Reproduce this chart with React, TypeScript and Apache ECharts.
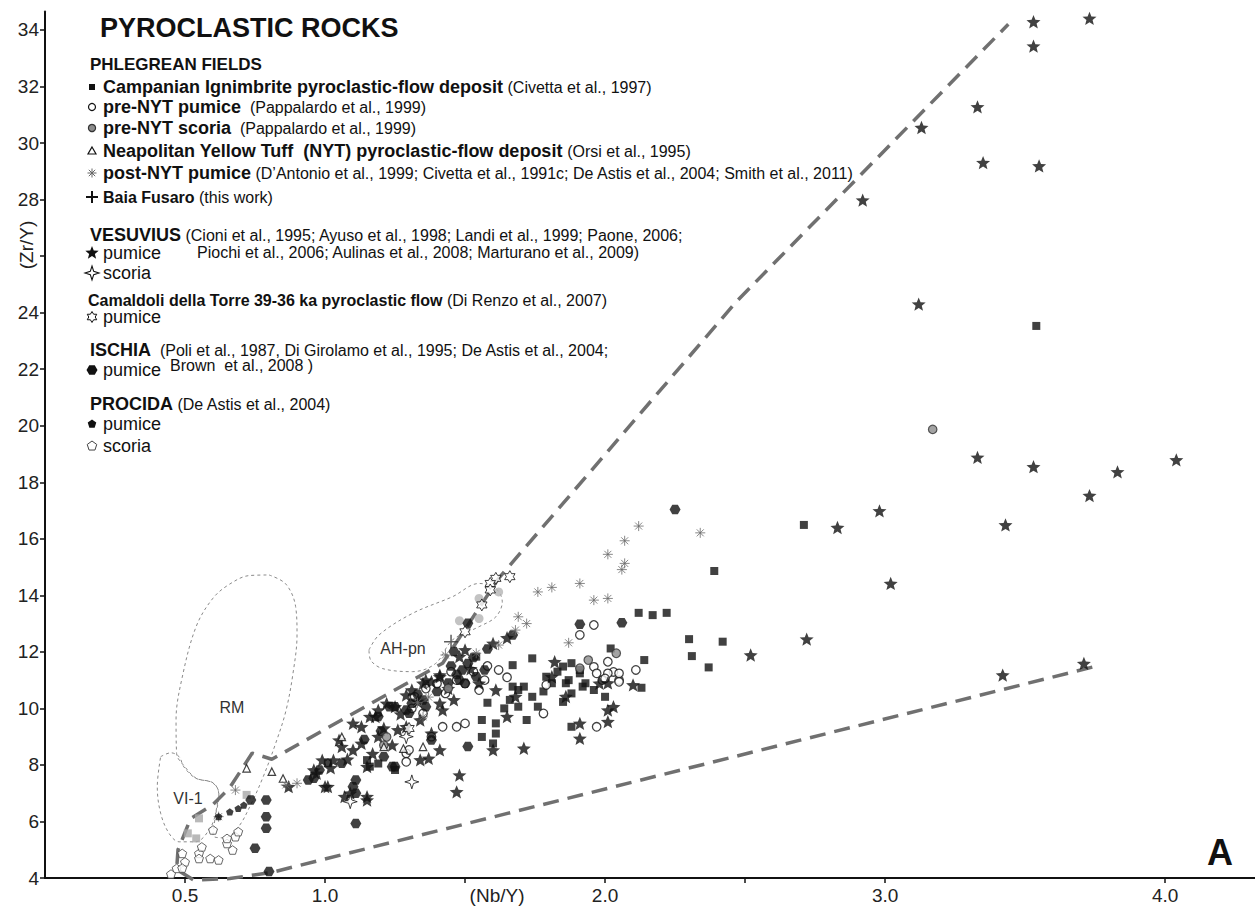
import React, { useEffect, useRef } from 'react';
import * as echarts from 'echarts';

const F = 'Liberation Sans, Arial, Helvetica, sans-serif';

// ---------- data (Nb/Y, Zr/Y) ----------
const campanian = [[3.54,23.53],[2.71,16.49],[2.39,14.86],[2.12,13.38],[2.17,13.30],[2.22,13.38],[2.30,12.45],[2.42,12.36],[2.31,11.85],[2.37,11.45],[2.02,12.12],[2.14,11.71],[2.13,10.73],[2.00,10.41],[1.88,10.53],[1.85,10.23],[1.88,9.35],[1.76,10.06],[1.74,10.41],[1.69,10.65],[1.67,10.77],[1.72,9.59],[1.69,10.06],[1.66,10.30],[1.61,9.11],[1.56,8.99],[1.60,8.76],[1.61,9.47],[1.56,9.59],[1.54,11.83],[1.74,11.77],[1.67,11.53],[1.25,7.82],[1.19,8.05],[1.15,8.17],[1.01,8.06],[1.16,7.94],[1.85,11.48],[1.88,11.60],[1.91,11.36],[1.87,11.00],[1.93,10.89],[1.96,10.65],[1.81,10.89],[1.79,11.12],[1.71,10.77],[1.91,11.24],[1.86,10.89],[1.92,10.77],[1.78,10.60],[1.83,11.30],[1.64,10.00],[1.58,10.20]];
const preNytPumice = [[1.96,12.95],[1.91,12.60],[2.11,11.36],[1.97,9.35],[1.99,11.00],[2.05,11.00],[2.03,11.29],[2.01,11.65],[1.96,11.47],[1.78,9.82],[1.79,10.83],[1.62,11.36],[1.57,11.00],[1.55,10.65],[1.50,10.88],[1.47,11.00],[1.40,10.88],[1.43,10.53],[1.42,9.35],[1.47,9.35],[1.50,9.47],[1.32,10.41],[1.35,9.82],[1.29,8.41],[1.29,8.11],[1.31,10.00],[2.01,11.24],[2.05,11.24],[2.05,10.94],[2.00,11.06],[1.97,11.24],[1.30,8.53],[1.36,10.70],[1.45,11.30],[1.53,11.30],[1.58,11.50],[1.65,11.10],[1.38,9.00]];
const preNytScoria = [[3.17,19.87],[1.94,11.71],[2.04,11.95],[1.91,11.42],[1.44,10.71],[1.22,8.99],[1.21,8.70]];
const lightGreyCircles = [[1.55,13.89],[1.62,14.12],[1.48,13.10],[1.55,13.18]];
const greySquares = [[0.72,6.94],[0.55,6.11],[0.51,5.58],[0.54,5.40]];
const nyt = [[0.72,7.88],[0.81,7.76],[0.85,7.52],[1.06,8.99],[1.35,8.64],[1.28,8.58],[1.21,8.64]];
const postNyt = [[2.12,16.45],[2.34,16.21],[2.07,15.93],[2.01,15.45],[2.07,15.13],[2.06,14.91],[1.91,14.42],[1.96,13.83],[2.01,13.89],[1.87,12.32],[1.76,14.12],[1.81,14.28],[1.69,13.24],[1.72,13.00],[1.68,12.77],[1.54,11.95],[1.62,12.24],[1.43,11.89],[1.35,9.70],[0.90,7.35],[0.86,7.29],[0.68,7.11],[0.62,6.17],[1.37,10.40],[1.33,10.20]];
const baiaFusaro = [[1.45,12.36]];
const vesuviusPumice = [[3.53,34.29],[3.73,34.41],[3.53,33.43],[3.33,31.28],[3.13,30.55],[3.35,29.31],[3.55,29.19],[2.92,27.98],[3.12,24.30],[3.33,18.88],[3.53,18.55],[3.83,18.37],[4.04,18.79],[3.73,17.53],[2.98,16.99],[3.43,16.49],[3.02,14.42],[3.42,11.18],[3.71,11.59],[2.83,16.40],[2.72,12.45],[2.52,11.89],[2.01,9.94],[2.01,9.53],[1.91,9.47],[1.91,8.94],[2.10,10.83],[2.01,10.90],[1.82,11.65],[1.71,8.59],[1.65,9.71],[1.60,8.53],[1.48,7.64],[1.47,7.05],[1.41,8.53],[1.37,8.23],[1.36,11.00],[1.41,11.12],[1.00,7.23],[1.07,6.88],[1.15,6.88],[1.29,10.47],[1.22,10.18],[1.16,9.71],[1.10,9.47],[1.19,9.94],[1.25,10.06],[1.31,10.65],[1.34,9.59],[1.41,10.18],[1.46,10.30],[1.55,10.89],[1.61,10.65],[1.68,10.42],[1.86,10.42],[1.81,11.12],[1.98,10.89],[2.03,10.06],[1.05,8.88],[0.99,8.17],[0.96,7.82],[1.03,8.17],[1.10,8.53],[1.13,8.76],[1.19,9.00],[1.26,9.24],[1.15,7.94],[1.18,9.71],[1.29,9.35],[1.13,9.35],[1.06,8.65],[0.97,7.70],[0.87,7.23],[1.01,7.23],[1.09,7.00],[1.15,6.76],[1.34,8.18],[1.38,9.12],[1.42,9.94],[1.35,10.89],[1.41,11.18],[1.50,12.07],[1.48,11.83],[1.60,12.30],[1.65,12.50],[1.08,8.20],[1.21,9.30],[1.27,9.80],[1.33,10.25],[1.44,10.70],[1.52,11.40],[1.38,10.95],[1.24,8.70],[1.17,8.40],[1.02,7.90]];
const vesuviusScoria = [[1.31,7.40],[1.09,6.70],[1.29,9.00]];
const camaldoliPumice = [[1.61,14.60],[1.66,14.66],[1.59,14.42],[1.59,14.19],[1.56,13.66],[1.50,12.71],[1.30,9.29]];
const ischiaPumice = [[2.25,17.04],[2.06,13.03],[1.91,12.98],[1.51,13.01],[1.46,12.01],[1.67,12.60],[1.51,11.59],[1.49,11.36],[1.54,11.12],[1.48,11.00],[1.38,8.88],[1.51,8.65],[1.24,7.94],[1.11,7.47],[1.10,7.23],[0.96,7.53],[0.98,7.82],[1.31,10.18],[1.29,9.94],[1.19,9.71],[1.23,10.06],[1.36,10.06],[1.57,11.36],[1.50,10.89],[0.94,7.47],[1.06,8.06],[1.25,7.94],[1.21,8.29],[1.11,7.00],[1.11,5.93],[0.79,6.76],[0.79,6.17],[0.79,5.76],[0.75,5.05],[0.80,4.23],[0.735,6.76],[1.30,9.83],[1.25,10.06],[1.45,11.50],[1.53,11.80],[1.40,10.60],[1.33,10.50],[1.44,10.90],[1.58,12.10],[1.20,9.20],[1.14,8.90],[1.35,10.30],[1.47,11.20]];
const procidaPumice = [[0.62,6.17],[0.66,6.34],[0.69,6.46],[0.71,6.58]];
const procidaScoria = [[0.47,4.34],[0.50,4.57],[0.49,4.87],[0.55,4.87],[0.55,4.69],[0.59,4.69],[0.62,4.64],[0.56,5.10],[0.60,5.70],[0.65,5.22],[0.65,5.40],[0.68,5.46],[0.69,5.64],[0.67,4.99],[0.45,4.14],[0.49,4.35]];

// field boundaries
const envelope = [[3.74,11.46],[0.81,4.2],[0.66,3.98],[0.53,3.93],[0.47,4.3],[0.475,5.0],[0.52,6.1],[0.6,6.6],[0.66,7.2],[0.74,8.42],[0.81,8.2],[1.42,11.6],[1.62,14.6],[2.47,24.4],[3.44,34.2]];
const rmField = [[0.80,14.72],[0.86,14.4],[0.895,13.6],[0.9,12.6],[0.885,11.2],[0.86,9.9],[0.825,8.8],[0.78,7.6],[0.735,6.6],[0.69,5.8],[0.64,5.42],[0.6,5.5],[0.61,6.3],[0.62,7.0],[0.6,7.37],[0.54,7.53],[0.5,7.93],[0.47,8.4],[0.468,9.6],[0.49,11.1],[0.54,12.9],[0.6,13.9],[0.66,14.4],[0.73,14.7],[0.80,14.72]];
const vi1Field = [[0.413,8.29],[0.449,8.43],[0.479,8.29],[0.496,7.93],[0.538,7.53],[0.598,7.37],[0.621,7.0],[0.61,6.29],[0.586,5.70],[0.538,5.28],[0.479,5.28],[0.443,5.58],[0.413,6.29],[0.401,7.23],[0.413,8.29]];
const ahpnField = [[1.157,12.07],[1.193,12.6],[1.312,13.36],[1.455,13.95],[1.55,14.42],[1.61,14.24],[1.633,13.77],[1.61,13.24],[1.55,12.89],[1.455,12.42],[1.395,11.59],[1.312,11.3],[1.205,11.41],[1.163,11.71],[1.157,12.07]];

const yTicks = [4,6,8,10,12,14,16,18,20,22,24,26,28,30,32,34];
const yLabels = [4,6,8,10,12,14,16,18,20,22,24,28,30,32,34];
const xTicks = [0.5,1,1.5,2,2.5,3,4];
const xLabels = [0.5,1,1.5,2,3,4];

// ---------- shapes ----------
function starPts(cx: number, cy: number, n: number, R: number, r: number, rot = -Math.PI / 2) {
  const pts: number[][] = [];
  for (let i = 0; i < 2 * n; i++) {
    const a = rot + (i * Math.PI) / n;
    const rr = i % 2 === 0 ? R : r;
    pts.push([cx + rr * Math.cos(a), cy + rr * Math.sin(a)]);
  }
  return pts;
}
function regPts(cx: number, cy: number, n: number, R: number, rot = -Math.PI / 2) {
  const pts: number[][] = [];
  for (let i = 0; i < n; i++) {
    const a = rot + (i * 2 * Math.PI) / n;
    pts.push([cx + R * Math.cos(a), cy + R * Math.sin(a)]);
  }
  return pts;
}
const toPath = (pts: number[][]) => 'path://M' + pts.map(p => p[0].toFixed(2) + ',' + p[1].toFixed(2)).join(' L') + ' Z';
const STAR5 = toPath(starPts(10, 10, 5, 10, 4.4));
const STAR4 = toPath(starPts(10, 10, 4, 10, 3.3));
const STAR6 = toPath(starPts(10, 10, 6, 10, 5.77));
const HEX = toPath(regPts(10, 10, 6, 10, 0));
const PENT = toPath(regPts(10, 10, 5, 10));
const ASTER = 'path://M5,0 L5,10 M0,5 L10,5 M1.5,1.5 L8.5,8.5 M8.5,1.5 L1.5,8.5';
const PLUS = 'path://M5,0 L5,10 M0,5 L10,5';

const BLACK = '#111111';

function App() {
  const ref = useRef<HTMLDivElement>(null);
  useEffect(() => {
    if (!ref.current) return;
    const chart = echarts.init(ref.current, undefined, { renderer: 'svg' });

    const sc = (name: string, data: number[][], symbol: string, size: number, itemStyle: any, z = 5) => ({
      type: 'scatter', name, data, symbol, symbolSize: size, symbolKeepAspect: true, itemStyle, z, silent: true,
    });
    const contour = (name: string, data: number[][]) => ({
      type: 'line', name, data, showSymbol: false, symbol: 'none', smooth: 0.35, silent: true, z: 1,
      lineStyle: { color: '#8a8a8a', width: 1, type: [3, 3] },
    });

    const RICH: any = {
      b: { fontFamily: F, fontSize: 18, fontWeight: 'bold', fill: BLACK, lineHeight: 16 },
      b16: { fontFamily: F, fontSize: 16, fontWeight: 'bold', fill: BLACK, lineHeight: 15 },
      r: { fontFamily: F, fontSize: 16, fill: BLACK, lineHeight: 15 },
      r18: { fontFamily: F, fontSize: 18, fill: BLACK, lineHeight: 16 },
    };
    const T = (x: number, y: number, text: string, extra: any = {}) => ({
      type: 'text', x, y, silent: true,
      style: { text, rich: RICH, fontFamily: F, fontSize: 16, fill: BLACK, verticalAlign: 'middle', align: 'left', ...extra },
    });
    const poly = (pts: number[][], fill: string, stroke?: string, lw = 1) => ({
      type: 'polygon', silent: true, shape: { points: pts }, style: { fill, stroke: stroke || 'none', lineWidth: lw },
    });
    const ln = (x1: number, y1: number, x2: number, y2: number, stroke: string, lw: number) => ({
      type: 'line', silent: true, shape: { x1, y1, x2, y2 }, style: { stroke, lineWidth: lw },
    });
    const mx = 92;

    const graphic: any[] = [
      T(100, 28, 'PYROCLASTIC ROCKS', { fontSize: 27, fontWeight: 'bold' }),
      T(90, 64, 'PHLEGREAN FIELDS', { fontSize: 17, fontWeight: 'bold' }),
      { type: 'rect', silent: true, shape: { x: mx - 3, y: 84, width: 6, height: 6 }, style: { fill: BLACK } },
      T(103, 87, '{b|Campanian Ignimbrite pyroclastic-flow deposit} {r|(Civetta et al., 1997)}'),
      { type: 'circle', silent: true, shape: { cx: mx, cy: 107, r: 3.5 }, style: { fill: '#fff', stroke: BLACK, lineWidth: 1.2 } },
      T(103, 107, '{b|pre-NYT pumice}  {r|(Pappalardo et al., 1999)}'),
      { type: 'circle', silent: true, shape: { cx: mx, cy: 128, r: 3.6 }, style: { fill: '#8c8c8c', stroke: '#333', lineWidth: 1.2 } },
      T(103, 128, '{b|pre-NYT scoria}  {r|(Pappalardo et al., 1999)}'),
      poly([[mx, 147], [mx + 4, 154], [mx - 4, 154]], '#fff', BLACK, 1.2),
      T(103, 151, '{b|Neapolitan Yellow Tuff  (NYT) pyroclastic-flow deposit} {r|(Orsi et al., 1995)}'),
      ln(mx - 4.5, 173, mx + 4.5, 173, '#666', 1), ln(mx, 168.5, mx, 177.5, '#666', 1),
      ln(mx - 3.2, 169.8, mx + 3.2, 176.2, '#666', 1), ln(mx + 3.2, 169.8, mx - 3.2, 176.2, '#666', 1),
      T(103, 173, '{b|post-NYT pumice}{r| (D\u2019Antonio et al., 1999; Civetta et al., 1991c; De Astis et al., 2004; Smith et al., 2011)}'),
      ln(mx - 6, 197, mx + 6, 197, BLACK, 2), ln(mx, 191, mx, 203, BLACK, 2),
      T(103, 197, '{b16|Baia Fusaro} {r|(this work)}'),
      T(90, 235, '{b|VESUVIUS} {r|(Cioni et al., 1995; Ayuso et al., 1998; Landi et al., 1999; Paone, 2006;}'),
      poly(starPts(mx, 253, 5, 7, 3), BLACK),
      T(103, 253, '{r18|pumice}'),
      T(197, 252, '{r|Piochi et al., 2006; Aulinas et al., 2008; Marturano et al., 2009)}'),
      poly(starPts(mx, 273, 4, 7, 2.4), '#fff', BLACK, 1.1),
      T(103, 273, '{r18|scoria}'),
      T(88, 300, '{b16|Camaldoli della Torre 39-36 ka pyroclastic flow} {r|(Di Renzo et al., 2007)}'),
      poly(starPts(mx, 317, 6, 5.5, 3.2), '#fff', BLACK, 1),
      T(103, 317, '{r18|pumice}'),
      T(90, 350, '{b|ISCHIA}  {r|(Poli et al., 1987, Di Girolamo et al., 1995; De Astis et al., 2004;}'),
      poly(regPts(mx, 370, 6, 5.5, 0), BLACK),
      T(103, 370, '{r18|pumice}'),
      T(170, 365, '{r|Brown  et al., 2008 )}'),
      T(90, 404, '{b|PROCIDA} {r|(De Astis et al., 2004)}'),
      poly(regPts(mx, 424, 5, 4.5), BLACK),
      T(103, 424, '{r18|pumice}'),
      poly(regPts(mx, 446, 5, 5), '#fff', '#444', 1),
      T(103, 446, '{r18|scoria}'),
      { type: 'text', x: 26, y: 245, rotation: Math.PI / 2, silent: true,
        style: { text: '(Zr/Y)', fontFamily: F, fontSize: 19, fill: '#222', align: 'center', verticalAlign: 'middle' } },
      T(232, 707, 'RM', { fontSize: 16, fill: '#333', align: 'center' }),
      T(188, 798, 'VI-1', { fontSize: 16, fill: '#333', align: 'center' }),
      T(403, 648, 'AH-pn', { fontSize: 16, fill: '#333', align: 'center' }),
      T(1220, 852, 'A', { fontSize: 36, fontWeight: 'bold', fill: BLACK, align: 'center' }),
    ];

    chart.setOption({
      animation: false,
      backgroundColor: '#ffffff',
      grid: { left: 45, right: 0, top: 11.6, bottom: 28, containLabel: false },
      xAxis: {
        type: 'value', min: 0, max: 4.321,
        splitLine: { show: false },
        axisLine: { lineStyle: { color: BLACK, width: 2 } },
        axisTick: { customValues: xTicks, length: 5, lineStyle: { color: BLACK, width: 1.5 } },
        axisLabel: {
          customValues: xLabels, margin: 8, fontFamily: F, fontSize: 19, color: '#222',
          formatter: (v: number) => (Math.abs(v - 1.5) < 1e-6 ? '{n|(Nb/Y)}' : v.toFixed(1)),
          rich: { n: { fontFamily: F, fontSize: 19, color: '#222', padding: [0, 0, 0, 64] } },
        },
      },
      yAxis: {
        type: 'value', min: 4, max: 34.65,
        splitLine: { show: false },
        axisLine: { lineStyle: { color: BLACK, width: 2 } },
        axisTick: { customValues: yTicks, length: 5, lineStyle: { color: BLACK, width: 1.5 } },
        axisLabel: { customValues: yLabels, margin: 6, fontFamily: F, fontSize: 19, color: '#222' },
      },
      graphic,
      series: [
        contour('RM', rmField),
        contour('VI-1', vi1Field),
        contour('AH-pn', ahpnField),
        {
          type: 'line', name: 'envelope', data: envelope, showSymbol: false, symbol: 'none', silent: true, clip: false, z: 2,
          lineStyle: { color: '#707070', width: 3.5, type: [16, 9] },
        },
        sc('Procida scoria', procidaScoria, PENT, 9, { color: '#fff', borderColor: '#444', borderWidth: 1 }),
        sc('grey squares', greySquares, 'rect', 8, { color: '#a8a8a8' }),
        sc('light grey circles', lightGreyCircles, 'circle', 9, { color: '#b4b4b4' }),
        sc('Campanian Ignimbrite', campanian, 'rect', 8, { color: BLACK }),
        sc('pre-NYT pumice', preNytPumice, 'circle', 8.5, { color: '#fff', borderColor: BLACK, borderWidth: 1.3 }),
        sc('Ischia pumice', ischiaPumice, HEX, 11, { color: BLACK }),
        sc('Vesuvius pumice', vesuviusPumice, STAR5, 14, { color: BLACK }),
        sc('pre-NYT scoria', preNytScoria, 'circle', 8.5, { color: '#8c8c8c', borderColor: '#333', borderWidth: 1.2 }),
        sc('NYT', nyt, 'triangle', 7.5, { color: '#fff', borderColor: BLACK, borderWidth: 1.2 }),
        sc('post-NYT pumice', postNyt, ASTER, 10, { color: 'none', borderColor: '#6a6a6a', borderWidth: 1 }),
        sc('Vesuvius scoria', vesuviusScoria, STAR4, 14, { color: '#fff', borderColor: BLACK, borderWidth: 1 }),
        sc('Camaldoli pumice', camaldoliPumice, STAR6, 12, { color: '#fff', borderColor: BLACK, borderWidth: 1 }),
        sc('Procida pumice', procidaPumice, PENT, 7.5, { color: BLACK }),
        sc('Baia Fusaro', baiaFusaro, PLUS, 14, { color: 'none', borderColor: '#333', borderWidth: 1.5 }),
      ],
    });
    return () => chart.dispose();
  }, []);
  return <div ref={ref} style={{ position: 'fixed', left: 0, top: 0, width: 1255, height: 906, background: '#fff' }} />;
}

export default App;
